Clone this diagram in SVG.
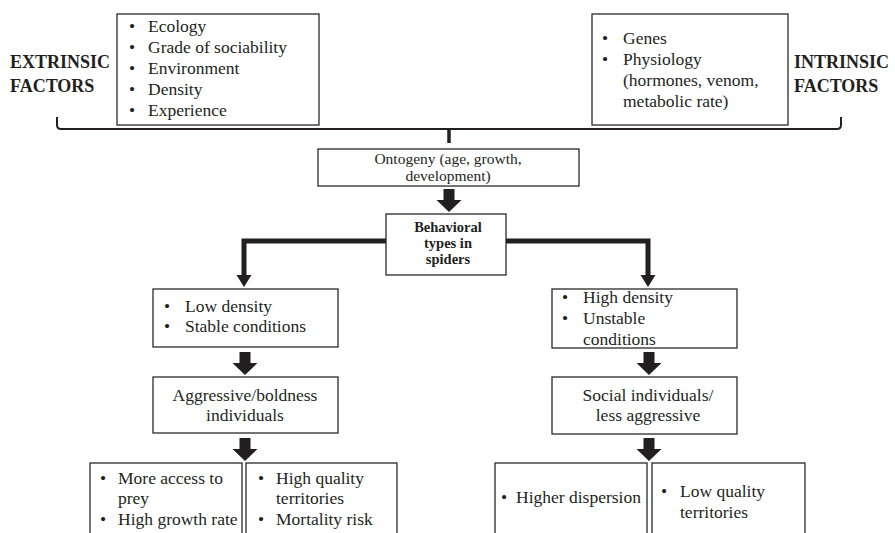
<svg xmlns="http://www.w3.org/2000/svg" width="895" height="533" viewBox="0 0 895 533">
<defs>
<style>
.box{fill:#fff;stroke:#2a2a2a;stroke-width:1.3}
.t{font-family:"Liberation Serif","Times New Roman",serif;font-size:17.5px;fill:#231f20}
.s{font-size:14.5px}
.b{font-weight:bold}
.c{text-anchor:middle}
.line{fill:none;stroke:#231f20;stroke-width:5}
.brace{fill:none;stroke:#231f20;stroke-width:2}
.blk{fill:#231f20}
</style>
<polygon id="blockArrow" points="-5.5,0 5.5,0 5.5,11 12.5,11 0,23 -12.5,11 -5.5,11"/>
<polygon id="headArrow" points="-7.5,0 7.5,0 0,12"/>
</defs>

<g id="extrinsic-label">
<text class="t b" x="10" y="68" style="font-size:18px">EXTRINSIC</text>
<text class="t b" x="10" y="92" style="font-size:18px">FACTORS</text>
</g>
<g id="intrinsic-label">
<text class="t b" x="794" y="68" style="font-size:18px">INTRINSIC</text>
<text class="t b" x="794" y="92" style="font-size:18px">FACTORS</text>
</g>

<g id="extrinsic-box">
<rect class="box" x="117" y="14" width="202" height="111"/>
<text class="t" x="129" y="32">•</text><text class="t" x="148" y="32">Ecology</text>
<text class="t" x="129" y="53">•</text><text class="t" x="148" y="53">Grade of sociability</text>
<text class="t" x="129" y="74">•</text><text class="t" x="148" y="74">Environment</text>
<text class="t" x="129" y="95">•</text><text class="t" x="148" y="95">Density</text>
<text class="t" x="129" y="116">•</text><text class="t" x="148" y="116">Experience</text>
</g>

<g id="intrinsic-box">
<rect class="box" x="592" y="14" width="196" height="111"/>
<text class="t" x="602" y="44">•</text><text class="t" x="623" y="44">Genes</text>
<text class="t" x="602" y="65">•</text><text class="t" x="623" y="65">Physiology</text>
<text class="t" x="623" y="86">(hormones, venom,</text>
<text class="t" x="623" y="107">metabolic rate)</text>
</g>

<g id="ontogeny">
<rect class="box" x="318" y="149" width="261" height="37"/>
<text class="t s c" x="448" y="164" style="font-size:15.5px">Ontogeny (age, growth,</text>
<text class="t s c" x="448" y="181" style="font-size:15.5px">development)</text>
</g>

<g id="behavioral">
<rect class="box" x="386" y="214" width="120" height="61"/>
<text class="t s b c" x="448" y="232">Behavioral</text>
<text class="t s b c" x="448" y="248">types in</text>
<text class="t s b c" x="448" y="264">spiders</text>
</g>

<g id="low-density">
<rect class="box" x="153" y="289" width="185" height="58"/>
<text class="t" x="164" y="312">•</text><text class="t" x="185" y="312">Low density</text>
<text class="t" x="164" y="332">•</text><text class="t" x="185" y="332">Stable conditions</text>
</g>

<g id="aggressive">
<rect class="box" x="153" y="377" width="185" height="56"/>
<text class="t c" x="245" y="401">Aggressive/boldness</text>
<text class="t c" x="245" y="421">individuals</text>
</g>

<g id="high-density">
<rect class="box" x="552" y="289" width="185" height="59"/>
<text class="t" x="562" y="303">•</text><text class="t" x="583" y="303">High density</text>
<text class="t" x="562" y="324">•</text><text class="t" x="583" y="324">Unstable</text>
<text class="t" x="583" y="345">conditions</text>
</g>

<g id="social">
<rect class="box" x="552" y="377" width="185" height="57"/>
<text class="t c" x="648" y="401">Social individuals/</text>
<text class="t c" x="648" y="421">less aggressive</text>
</g>

<g id="outcome-prey">
<rect class="box" x="90" y="463" width="152" height="80"/>
<text class="t" x="100" y="484">•</text><text class="t" x="118" y="484">More access to</text>
<text class="t" x="118" y="504">prey</text>
<text class="t" x="100" y="525">•</text><text class="t" x="118" y="525">High growth rate</text>
</g>

<g id="outcome-territory">
<rect class="box" x="246" y="463" width="151" height="80"/>
<text class="t" x="258" y="484">•</text><text class="t" x="276" y="484">High quality</text>
<text class="t" x="276" y="504">territories</text>
<text class="t" x="258" y="525">•</text><text class="t" x="276" y="525">Mortality risk</text>
</g>

<g id="outcome-dispersion">
<rect class="box" x="495" y="463" width="152" height="80"/>
<text class="t" x="501" y="503">•</text><text class="t" x="516" y="503">Higher dispersion</text>
</g>

<g id="outcome-low-quality">
<rect class="box" x="652" y="463" width="153" height="80"/>
<text class="t" x="661" y="497">•</text><text class="t" x="680" y="497">Low quality</text>
<text class="t" x="680" y="518">territories</text>
</g>

<g id="connectors">
<path class="brace" d="M57,117 V125 Q57,129 61,129 H837 Q841,129 841,125 V117"/>
<path d="M449,129 V143" fill="none" stroke="#231f20" stroke-width="3.5"/>
<use href="#blockArrow" class="blk" x="449" y="189"/>
<path class="line" d="M386,241 H244 V276"/>
<use href="#headArrow" class="blk" x="244" y="275"/>
<path class="line" d="M506,241 H648 V276"/>
<use href="#headArrow" class="blk" x="648" y="275"/>
<use href="#blockArrow" class="blk" x="245" y="352"/>
<use href="#blockArrow" class="blk" x="649" y="352"/>
<use href="#blockArrow" class="blk" x="245" y="438"/>
<use href="#blockArrow" class="blk" x="649" y="438"/>
</g>
</svg>
